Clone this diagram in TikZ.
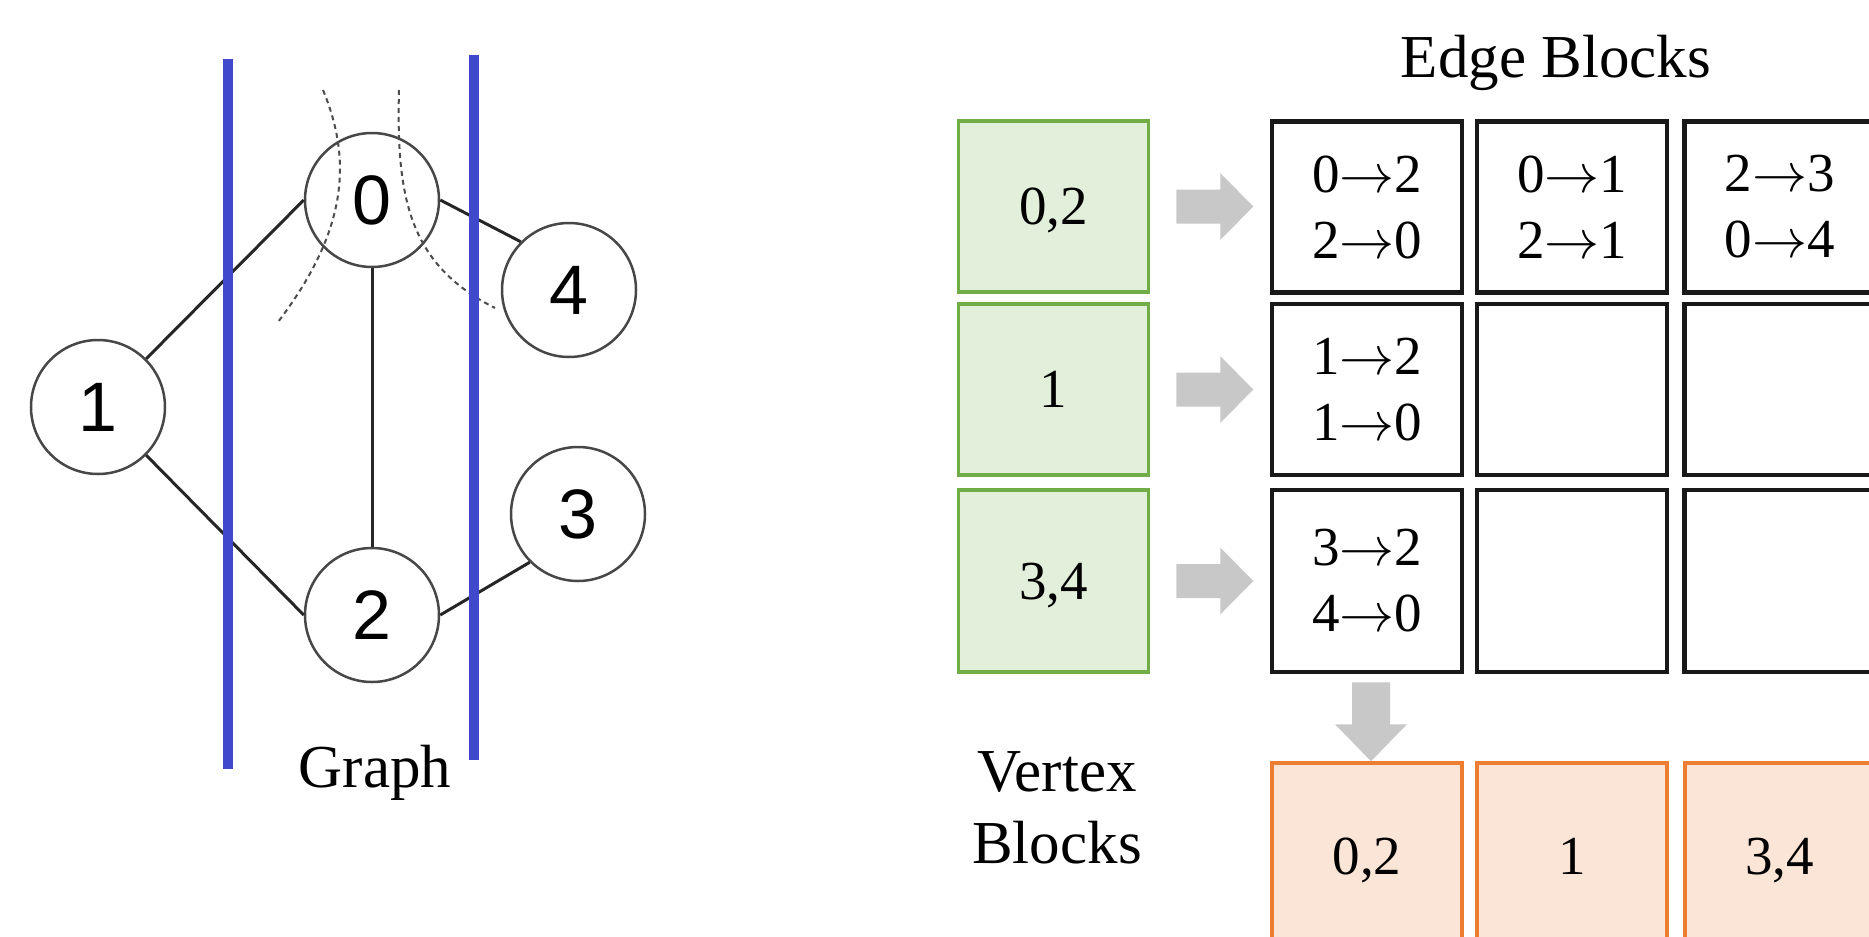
\RequirePackage{fix-cm}
\documentclass[tikz,border=0pt]{standalone}
\usepackage{fontspec}
\setmainfont{Liberation Serif}
\newfontfamily\numfont{Liberation Sans}
\usetikzlibrary{calc}

\definecolor{partblue}{RGB}{64,72,204}
\definecolor{vgreen}{RGB}{112,173,71}
\definecolor{vgreenfill}{RGB}{226,239,218}
\definecolor{vorange}{RGB}{237,125,49}
\definecolor{vorangefill}{RGB}{251,229,214}
\definecolor{arrowgray}{RGB}{200,200,200}

\tikzset{
  vert/.style={circle, draw=black!72, line width=2.5pt, minimum size=134pt,
    inner sep=0pt, font=\numfont\fontsize{70}{70}\selectfont},
  gedge/.style={line width=3pt, draw=black!85},
  cut/.style={line width=2pt, draw=black!70, dash pattern=on 5pt off 4pt},
  part/.style={line width=10pt, draw=partblue},
  lbl/.style={inner sep=0pt, font=\fontsize{61}{72}\selectfont, align=center},
  blk/.style={rectangle, inner sep=0pt, minimum width=190pt,
    font=\fontsize{55}{66}\selectfont, align=center},
  vblk/.style={blk, draw=vgreen, fill=vgreenfill, line width=3.5pt},
  eblk/.style={blk, draw=black!90, line width=4.5pt},
  oblk/.style={blk, draw=vorange, fill=vorangefill, line width=4pt},
  garrow/.style={fill=arrowgray, draw=none},
}

% directed edge text inside an edge block
\newcommand\ed[2]{#1$\rightarrow$#2}
% block arrow pointing right, tail at the given point
\newcommand\grayarrowright[1]{%
  \fill[garrow] ($(#1)+(0,-17)$) -- ++(44,0) -- ++(0,-16.5) -- ++(33,33.5)
    -- ++(-33,33.5) -- ++(0,-16.5) -- ++(-44,0) -- cycle;}
% block arrow pointing down, tail at the given point
\newcommand\grayarrowdown[1]{%
  \fill[garrow] ($(#1)+(-19,0)$) -- ++(0,42) -- ++(-17,0) -- ++(36,37)
    -- ++(36,-37) -- ++(-17,0) -- ++(0,-42) -- cycle;}

\begin{document}
\begin{tikzpicture}[x=1pt,y=-1pt]
\useasboundingbox (0,0) rectangle (1869,937);
\clip (0,0) rectangle (1869,937);

% ---------------- graph ----------------
\node[vert] (v0) at (372,200) {0};
\node[vert] (v1) at (98,407) {1};
\node[vert] (v2) at (372,615) {2};
\node[vert] (v3) at (578,514) {3};
\node[vert] (v4) at (569,290) {4};

\draw[gedge] (v1.north east) -- (v0.west);
\draw[gedge] (v1.south east) -- (v2.west);
\draw[gedge] (v0.south) -- (v2.north);
\draw[gedge] (v0.east) -- (v4.north west);
\draw[gedge] (v2.east) -- (v3.south west);

% cut lines through vertex 0
\draw[cut] (323,90) .. controls (352,160) and (348,230) .. (278,322);
\draw[cut] (399,90) .. controls (396,200) and (410,265) .. (495,308);

% partition boundaries
\draw[part] (228,59) -- (228,769);
\draw[part] (474,55) -- (474,760);

\node[lbl, anchor=base] (glabel) at (375,787) {Graph};

% ---------------- blocks ----------------
\node[lbl, anchor=base] (etitle) at (1556,77) {Edge Blocks};

% vertex blocks (rows)
\node[vblk, minimum height=171pt, text depth=0pt] (g1) at (1053.5,206.5) {0,2};
\node[vblk, minimum height=171pt, text depth=0pt] (g2) at (1053.5,389.5) {1};
\node[vblk, minimum height=182pt, text depth=0pt] (g3) at (1053.5,581) {3,4};

% edge blocks
\node[eblk, minimum height=171pt] (e11) at (1367,207) {\ed02\\\ed20};
\node[eblk, minimum height=171pt] (e12) at (1572,207) {\ed01\\\ed21};
\node[eblk, minimum height=171pt] (e13) at (1779.5,207) {\ed23\\\ed04};
\node[eblk, minimum height=171pt] (e21) at (1367,389.5) {\ed12\\\ed10};
\node[eblk, minimum height=171pt] (e22) at (1572,389.5) {};
\node[eblk, minimum height=171pt] (e23) at (1779.5,389.5) {};
\node[eblk, minimum height=182pt] (e31) at (1367,581) {\ed32\\\ed40};
\node[eblk, minimum height=182pt] (e32) at (1572,581) {};
\node[eblk, minimum height=182pt] (e33) at (1779.5,581) {};

% vertex blocks (columns)
\node[lbl] (vlabel) at (1057,808) {Vertex\\Blocks};
\node[oblk, minimum height=186pt, text depth=0pt] (o1) at (1367,856) {0,2};
\node[oblk, minimum height=186pt, text depth=0pt] (o2) at (1572,856) {1};
\node[oblk, minimum height=186pt, text depth=0pt] (o3) at (1779.5,856) {3,4};

% arrows
\grayarrowright{$(g1.east)+(26,0)$}
\grayarrowright{$(g2.east)+(26,0)$}
\grayarrowright{$(g3.east)+(26,0)$}
\grayarrowdown{$(e31.south)+(4,8)$}
\end{tikzpicture}
\end{document}
